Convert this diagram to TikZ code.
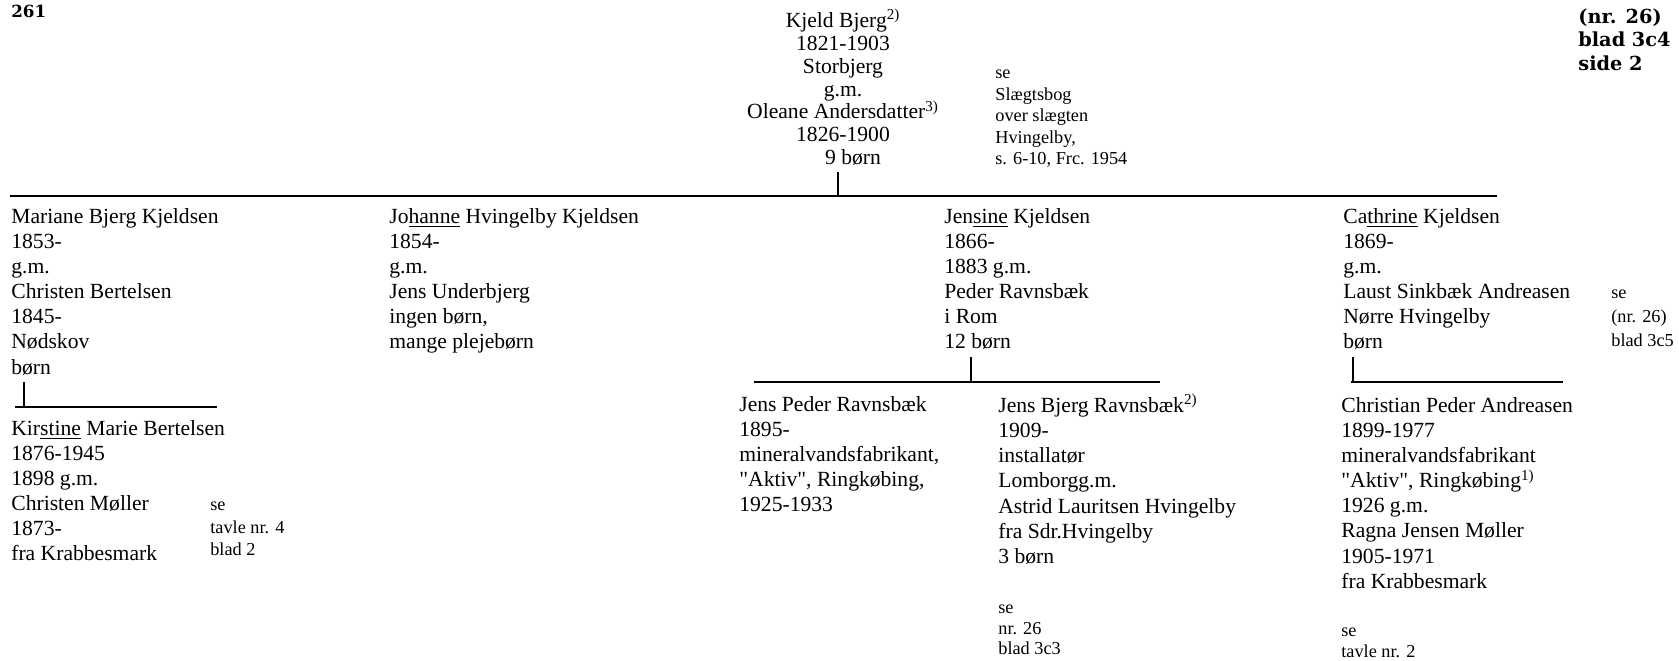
\documentclass[tikz,border=0pt]{standalone}
\usepackage{fontspec}
\setmainfont{Liberation Serif}
\newfontfamily\sheetfont{DejaVu Serif}
\begin{document}
\begin{tikzpicture}[
        x=0.02cm, y=-0.02cm,
        person/.style={anchor=north west, inner sep=0pt, align=left, font=\fontsize{12.3}{14.3}\selectfont, execute at begin node=\strut},
        parents/.style={anchor=north, inner sep=0pt, align=center, font=\fontsize{12.3}{13}\selectfont, execute at begin node=\strut},
        remark/.style={anchor=north west, inner sep=0pt, align=left, font=\fontsize{10.4}{12.2}\selectfont, execute at begin node=\strut},
        sheet/.style={anchor=north west, inner sep=0pt, align=left, font=\sheetfont\bfseries\fontsize{11}{13.4}\selectfont, execute at begin node=\strut},
        folio/.style={anchor=north west, inner sep=0pt, font=\sheetfont\bfseries\fontsize{9.5}{11.4}\selectfont, execute at begin node=\strut},
        branch/.style={line width=1pt}
    ]
        \path[use as bounding box] (0,0) rectangle (1679,660);

        \node[folio] (pageno) at (11,3) {261};
        \node[sheet] (sheetref) at (1578,8) {(nr. 26)\\blad 3c4\\side 2};

        \node[parents] (couple) at (843,9) {Kjeld Bjerg\textsuperscript{2)}\\1821-1903\\Storbjerg\\g.m.\\Oleane Andersdatter\textsuperscript{3)}\\1826-1900\\\hspace*{0.4cm}9 børn};
        \node[remark] (bookref) at (995,70) {se\\Slægtsbog\\over slægten\\Hvingelby,\\s. 6-10, Frc. 1954};

        \node[person] (mariane) at (11,208) {Mariane Bjerg Kjeldsen\\1853-\\g.m.\\Christen Bertelsen\\1845-\\Nødskov\\børn};
        \node[person] (johanne) at (389,208) {Jo\underline{hanne} Hvingelby Kjeldsen\\1854-\\g.m.\\Jens Underbjerg\\ingen børn,\\mange plejebørn};
        \node[person] (jensine) at (944,208) {Jen\underline{sine} Kjeldsen\\1866-\\1883 g.m.\\Peder Ravnsbæk\\i Rom\\12 børn};
        \node[person] (cathrine) at (1343,208) {Ca\underline{thrine} Kjeldsen\\1869-\\g.m.\\Laust Sinkbæk Andreasen\\Nørre Hvingelby\\børn};
        \node[remark, font=\fontsize{10.4}{13.6}\selectfont] (cathnote) at (1611,290) {se\\(nr. 26)\\blad 3c5};

        \node[person] (kirstine) at (11,420) {Kir\underline{stine} Marie Bertelsen\\1876-1945\\1898 g.m.\\Christen Møller\\1873-\\fra Krabbesmark};
        \node[remark, font=\fontsize{10.4}{12.8}\selectfont] (kirstnote) at (210,502) {se\\tavle nr. 4\\blad 2};

        \node[person] (jenspeder) at (739,396) {Jens Peder Ravnsbæk\\1895-\\mineralvandsfabrikant,\\\textquotedbl Aktiv\textquotedbl, Ringkøbing,\\1925-1933};
        \node[person] (jensbjerg) at (998,394) {Jens Bjerg Ravnsbæk\textsuperscript{2)}\\1909-\\installatør\\Lomborgg.m.\\Astrid Lauritsen Hvingelby\\fra Sdr.Hvingelby\\3 børn};
        \node[remark, font=\fontsize{10.4}{11.4}\selectfont] (jbnote) at (998,605) {se\\nr. 26\\blad 3c3};

        \node[person] (christian) at (1341,397) {Christian Peder Andreasen\\1899-1977\\mineralvandsfabrikant\\\textquotedbl Aktiv\textquotedbl, Ringkøbing\textsuperscript{1)}\\1926 g.m.\\Ragna Jensen Møller\\1905-1971\\fra Krabbesmark};
        \node[remark, font=\fontsize{10.4}{11.4}\selectfont] (chrnote) at (1341,628) {se\\tavle nr. 2};

        \coordinate (barL) at (10,196);
        \coordinate (barR) at (1497,196);
        \coordinate (topstem) at (838,196);
        \draw[branch] (barL) -- (barR);
        \draw[branch] (couple.south -| topstem) -- (topstem);

        \coordinate (kirsL) at (15,407);
        \coordinate (kirsR) at (217,407);
        \coordinate (kirsstem) at (24,407);
        \draw[branch] (kirsL) -- (kirsR);
        \draw[branch] (mariane.south -| kirsstem) -- (kirsstem);

        \coordinate (ravnL) at (754,382);
        \coordinate (ravnR) at (1160,382);
        \coordinate (ravnstem) at (971,382);
        \draw[branch] (ravnL) -- (ravnR);
        \draw[branch] (jensine.south -| ravnstem) -- (ravnstem);

        \coordinate (andrL) at (1351,382);
        \coordinate (andrR) at (1563,382);
        \coordinate (andrstem) at (1353,382);
        \draw[branch] (andrL) -- (andrR);
        \draw[branch] (cathrine.south -| andrstem) -- (andrstem);
    \end{tikzpicture}
\end{document}
